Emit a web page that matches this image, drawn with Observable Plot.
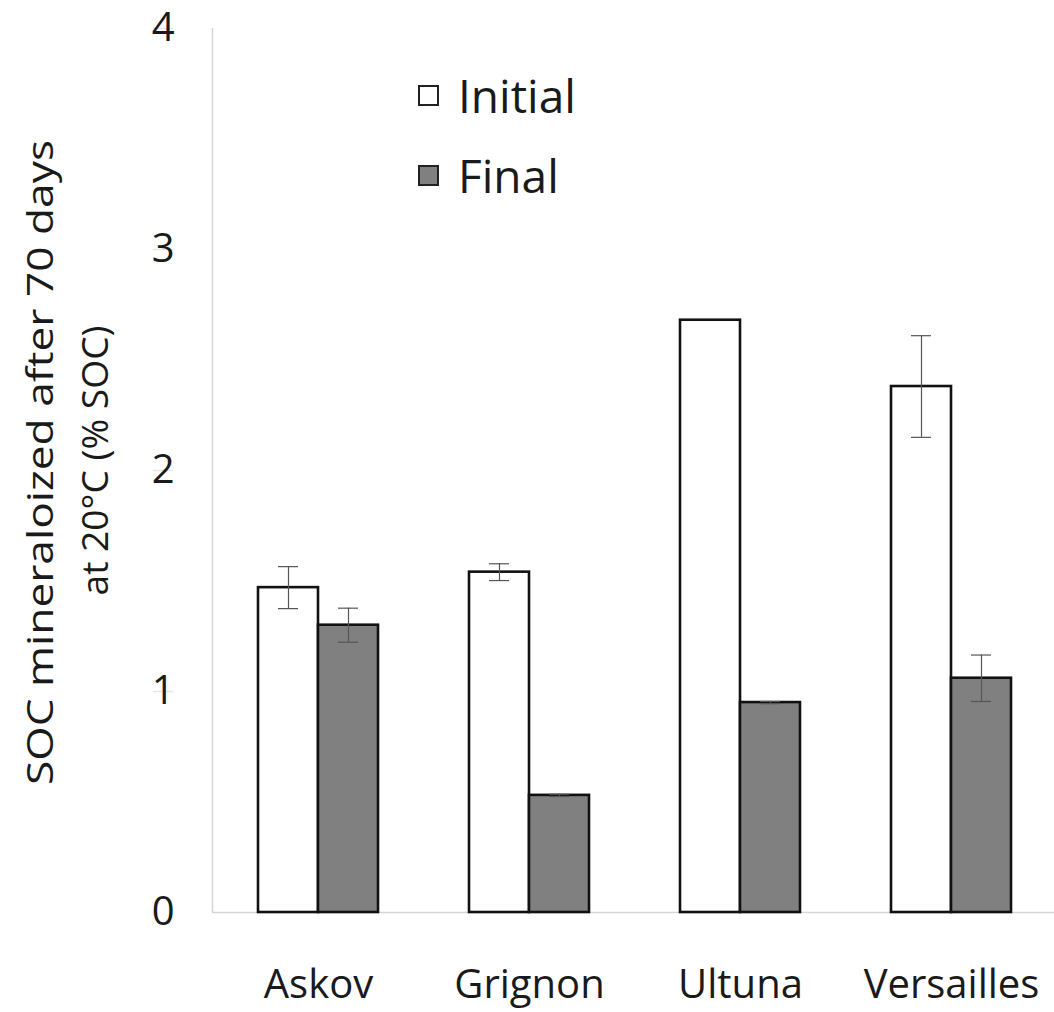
<!DOCTYPE html>
<html>
<head>
<meta charset="utf-8">
<script src="https://cdn.jsdelivr.net/npm/d3@7"></script>
<script src="https://cdn.jsdelivr.net/npm/@observablehq/plot@0.6"></script>
<style>
  html, body { margin: 0; padding: 0; background: #fff; }
  #wrap { position: relative; width: 1054px; height: 1012px; font-family: "Open Sans", sans-serif; color: #1a1a1a; }
  .legend { position: absolute; left: 418px; font-size: 46px; line-height: 1; display: flex; align-items: center; }
  .legend .sw { width: 21px; height: 21px; border: 2.5px solid #222; box-sizing: border-box; margin-right: 19px; }
</style>
</head>
<body>
<div id="wrap"></div>
<script>
// ---- data ----
const sites = ["Askov", "Grignon", "Ultuna", "Versailles"];
const series = ["Initial", "Final"];
const initialMean = [1.47, 1.54, 2.68, 2.38];
const initialErr  = [0.095, 0.038, 0.0, 0.23];
const finalMean   = [1.30, 0.53, 0.95, 1.06];
const finalErr    = [0.077, 0.005, 0.005, 0.105];
const yTicks = [0, 1, 2, 3, 4];
const yLabelLines = ["SOC mineraloized after 70 days", "at 20°C (% SOC)"];
const seriesFill = ["#ffffff", "#808080"];

// ---- table ----
const rows = [];
sites.forEach((s, i) => {
  rows.push({site: s, series: "Initial", value: initialMean[i], err: initialErr[i]});
  rows.push({site: s, series: "Final", value: finalMean[i], err: finalErr[i]});
});
const ini = rows.filter(d => d.series === "Initial");
const fin = rows.filter(d => d.series === "Final");

const half = 60; // one bar width (half of the group band)

const yAxisLine = (index, scales, values, dims) => {
  const l = document.createElementNS("http://www.w3.org/2000/svg", "line");
  l.setAttribute("x1", dims.marginLeft + 0.5);
  l.setAttribute("x2", dims.marginLeft + 0.5);
  l.setAttribute("y1", scales.y(4));
  l.setAttribute("y2", scales.y(0));
  l.setAttribute("stroke", "#d6d6d6");
  l.setAttribute("stroke-width", 1.5);
  return l;
};

const chart = Plot.plot({
  width: 1054,
  height: 1012,
  marginLeft: 212,
  marginRight: 0,
  marginTop: 28,
  marginBottom: 100,
  style: {fontFamily: "Open Sans, sans-serif", color: "#1a1a1a", background: "#fff"},
  x: {domain: sites, range: [211, 1057], paddingInner: 0.433, paddingOuter: 0.2165, label: null},
  y: {domain: [0, 4], ticks: yTicks, label: null},
  marks: [
    Plot.tickY(yTicks.slice(1), {y: d => d, x: () => "Askov", dx: -105, stroke: "#e6e6e6", strokeWidth: 1.5, insetRight: 100}),
    Plot.ruleY([0], {stroke: "#d6d6d6", strokeWidth: 1.5}),
    yAxisLine,
    Plot.barY(ini, {x: "site", y: "value", fill: seriesFill[0], stroke: "#111", strokeWidth: 2.6, insetRight: half}),
    Plot.barY(fin, {x: "site", y: "value", fill: seriesFill[1], stroke: "#111", strokeWidth: 2.6, insetLeft: half}),
    // error bars
    Plot.ruleX(ini.filter(d => d.err > 0), {x: "site", y1: d => d.value - d.err, y2: d => d.value + d.err, dx: -half / 2, stroke: "#555", strokeWidth: 1.2}),
    Plot.ruleX(fin.filter(d => d.err > 0), {x: "site", y1: d => d.value - d.err, y2: d => d.value + d.err, dx: half / 2, stroke: "#555", strokeWidth: 1.2}),
    Plot.tickY(ini.filter(d => d.err > 0), {x: "site", y: d => d.value + d.err, insetLeft: 20, insetRight: 80, stroke: "#555", strokeWidth: 1.2}),
    Plot.tickY(ini.filter(d => d.err > 0), {x: "site", y: d => d.value - d.err, insetLeft: 20, insetRight: 80, stroke: "#555", strokeWidth: 1.2}),
    Plot.tickY(fin.filter(d => d.err > 0), {x: "site", y: d => d.value + d.err, insetLeft: 80, insetRight: 20, stroke: "#555", strokeWidth: 1.2}),
    Plot.tickY(fin.filter(d => d.err > 0), {x: "site", y: d => d.value - d.err, insetLeft: 80, insetRight: 20, stroke: "#555", strokeWidth: 1.2}),
    Plot.axisY({ticks: yTicks, tickSize: 0, tickPadding: 38, fontSize: 40, tickFormat: d => String(d), label: null}),
    Plot.axisX({tickSize: 0, tickPadding: 57, fontSize: 40, label: null}),
    Plot.text([yLabelLines[0]], {frameAnchor: "left", textAnchor: "middle", rotate: -90, dx: -171, dy: -8, fontSize: 36, fill: "#1a1a1a"}),
    Plot.text([yLabelLines[1]], {frameAnchor: "left", textAnchor: "middle", rotate: -90, dx: -116, dy: -10, fontSize: 36, fill: "#1a1a1a"})
  ]
});

// fit the axis-title lines to the reference's condensed lengths
const titleLengths = [645, 270];
const textGroups = chart.querySelectorAll('g[aria-label="text"]');
textGroups.forEach((g, i) => {
  g.querySelectorAll("text").forEach(t => {
    t.setAttribute("textLength", titleLengths[i]);
    t.setAttribute("lengthAdjust", "spacingAndGlyphs");
  });
});

const wrap = document.getElementById("wrap");
wrap.appendChild(chart);

// legend (inside plot area, top)
series.forEach((s, i) => {
  const item = document.createElement("div");
  item.className = "legend";
  item.style.top = (i === 0 ? 72 : 152) + "px";
  const sw = document.createElement("div");
  sw.className = "sw";
  sw.style.background = seriesFill[i];
  const tx = document.createElement("span");
  tx.textContent = s;
  item.appendChild(sw);
  item.appendChild(tx);
  wrap.appendChild(item);
});
</script>
</body>
</html>
